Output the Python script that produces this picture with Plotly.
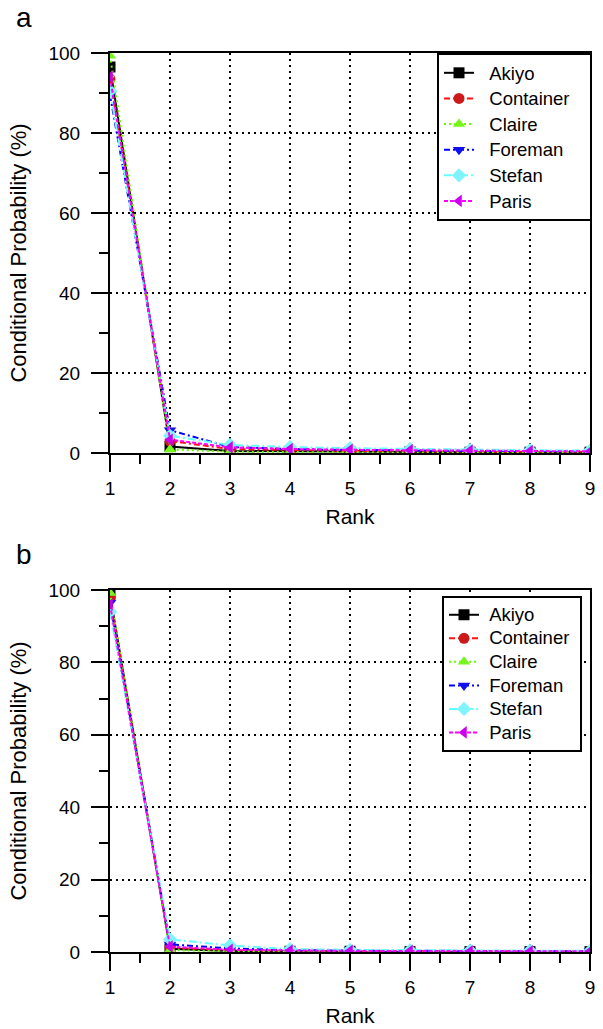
import plotly.graph_objects as go

W, H = 603, 1029

rank = [1, 2, 3, 4, 5, 6, 7, 8, 9]
series_names = ["Akiyo", "Container", "Claire", "Foreman", "Stefan", "Paris"]

# Panel a values (%)
a_akiyo = [96.5, 1.6, 0.5, 0.4, 0.3, 0.3, 0.2, 0.2, 0.2]
a_container = [93.5, 3.0, 1.0, 0.7, 0.5, 0.4, 0.3, 0.3, 0.3]
a_claire = [99.3, 0.9, 0.3, 0.2, 0.2, 0.1, 0.1, 0.1, 0.1]
a_foreman = [89.5, 5.7, 1.5, 1.0, 0.8, 0.6, 0.5, 0.5, 0.4]
a_stefan = [90.5, 4.3, 2.0, 1.5, 1.2, 1.0, 0.8, 0.7, 0.6]
a_paris = [94.0, 3.3, 1.4, 1.0, 0.8, 0.7, 0.6, 0.5, 0.4]

# Panel b values (%)
b_akiyo = [98.8, 0.9, 0.3, 0.2, 0.2, 0.1, 0.1, 0.1, 0.1]
b_container = [98.0, 1.2, 0.5, 0.3, 0.2, 0.2, 0.2, 0.1, 0.1]
b_claire = [99.2, 0.5, 0.2, 0.1, 0.1, 0.1, 0.1, 0.1, 0.1]
b_foreman = [96.5, 2.1, 1.0, 0.5, 0.4, 0.3, 0.3, 0.2, 0.2]
b_stefan = [94.0, 3.5, 1.8, 0.8, 0.6, 0.5, 0.4, 0.4, 0.3]
b_paris = [96.0, 1.5, 0.6, 0.4, 0.3, 0.3, 0.2, 0.2, 0.2]

x_tick_vals = [1, 2, 3, 4, 5, 6, 7, 8, 9]
y_tick_vals = [0, 20, 40, 60, 80, 100]

styles = {
    "Akiyo": dict(color="#000000", mcolor="#000000", dash="solid", symbol="square"),
    "Container": dict(color="#ff1010", mcolor="#cc1a1a", dash="6px,3px,6px,3px,2px,3px", symbol="circle"),
    "Claire": dict(color="#66ff00", mcolor="#77f51a", dash="2px,3px", symbol="triangle-up"),
    "Foreman": dict(color="#0000ff", mcolor="#1010ee", dash="6px,3px,2px,3px", symbol="triangle-down"),
    "Stefan": dict(color="#66ffff", mcolor="#7ff4ff", dash="8px,3px,2px,3px", symbol="diamond"),
    "Paris": dict(color="#ff00ff", mcolor="#cc00ee", dash="4px,2px", symbol="triangle-left"),
}

panel_a = dict(zip(series_names, [a_akiyo, a_container, a_claire, a_foreman, a_stefan, a_paris]))
panel_b = dict(zip(series_names, [b_akiyo, b_container, b_claire, b_foreman, b_stefan, b_paris]))

NB = "&nbsp;"
legend_label = {
    "legend": lambda n: '<span style="font-size:18.5px">%s%s%s</span>' % (NB * 2, n, NB * 3),
    "legend2": lambda n: '<span style="font-size:18.5px">%s%s%s</span>' % (NB * 1, n, NB * 1),
}

fig = go.Figure()
for panel, (xa, ya, leg) in [(panel_a, ("x", "y", "legend")), (panel_b, ("x2", "y2", "legend2"))]:
    for name in series_names:
        s = styles[name]
        fig.add_trace(go.Scatter(
            x=rank, y=panel[name], name=legend_label[leg](name), mode="lines+markers",
            xaxis=xa, yaxis=ya, legend=leg,
            line=dict(color=s["color"], width=2, dash=s["dash"]),
            marker=dict(symbol=s["symbol"], color=s["mcolor"], size=11,
                        line=dict(width=0)),
        ))

def px_x(p):
    return p / W

def px_y(p):
    return 1 - p / H

font_family = "Liberation Sans, Arial, sans-serif"

def xaxis_cfg():
    return dict(
        domain=[px_x(110), px_x(590)], range=[1, 9], automargin=False,
        tickvals=x_tick_vals, ticks="outside", ticklen=17, tickwidth=2,
        tickcolor="black", showline=True, linecolor="black", linewidth=2,
        mirror=True, showgrid=True, gridcolor="black", gridwidth=1.5,
        griddash="2px,4px", zeroline=False,
        minor=dict(dtick=0.5, tick0=1, ticks="outside", ticklen=9, tickwidth=2,
                   tickcolor="black", showgrid=False),
        tickfont=dict(size=19, color="black", family=font_family),
        title=dict(text="Rank", font=dict(size=21, color="black", family=font_family), standoff=12),
    )

def yaxis_cfg(top, bottom):
    return dict(
        domain=[px_y(bottom), px_y(top)], range=[0, 100], automargin=False,
        tickvals=y_tick_vals, ticks="outside", ticklen=17, tickwidth=2,
        tickcolor="black", showline=True, linecolor="black", linewidth=2,
        mirror=True, showgrid=True, gridcolor="black", gridwidth=1.5,
        griddash="2px,4px", zeroline=False, ticklabelstandoff=7,
        minor=dict(dtick=10, tick0=0, ticks="outside", ticklen=9, tickwidth=2,
                   tickcolor="black", showgrid=False),
        tickfont=dict(size=19, color="black", family=font_family),
        title=dict(text="Conditional Probability (%)",
                   font=dict(size=22, color="black", family=font_family), standoff=16),
    )

xa = xaxis_cfg(); xa["anchor"] = "y"
ya = yaxis_cfg(53, 453); ya["anchor"] = "x"
xb = xaxis_cfg(); xb["anchor"] = "y2"
yb = yaxis_cfg(590, 952); yb["anchor"] = "x2"

legend_common = dict(
    bgcolor="white", bordercolor="black", borderwidth=2,
    xanchor="right", yanchor="top", tracegroupgap=0,
)

fig.update_layout(
    width=W, height=H, margin=dict(l=0, r=0, t=0, b=0, autoexpand=False),
    paper_bgcolor="white", plot_bgcolor="white",
    font=dict(family=font_family, color="black"),
    xaxis=xa, yaxis=ya, xaxis2=xb, yaxis2=yb,
    legend=dict(x=px_x(592), y=px_y(53),
                font=dict(size=17.4, color="black", family=font_family), **legend_common),
    legend2=dict(x=px_x(582), y=px_y(596),
                 font=dict(size=15.8, color="black", family=font_family), **legend_common),
    showlegend=True,
    annotations=[
        dict(text="a", x=px_x(14), y=px_y(17), xref="paper", yref="paper",
             xanchor="left", yanchor="middle", showarrow=False,
             font=dict(size=28, color="black", family=font_family)),
        dict(text="b", x=px_x(14), y=px_y(554), xref="paper", yref="paper",
             xanchor="left", yanchor="middle", showarrow=False,
             font=dict(size=28, color="black", family=font_family)),
    ],
)

# Remove the default 8px body margin so that figure pixels match page pixels
fig.write_html("out.html",
               config={"displayModeBar": False},
               post_script="document.body.style.margin='0';document.body.style.padding='0';")
